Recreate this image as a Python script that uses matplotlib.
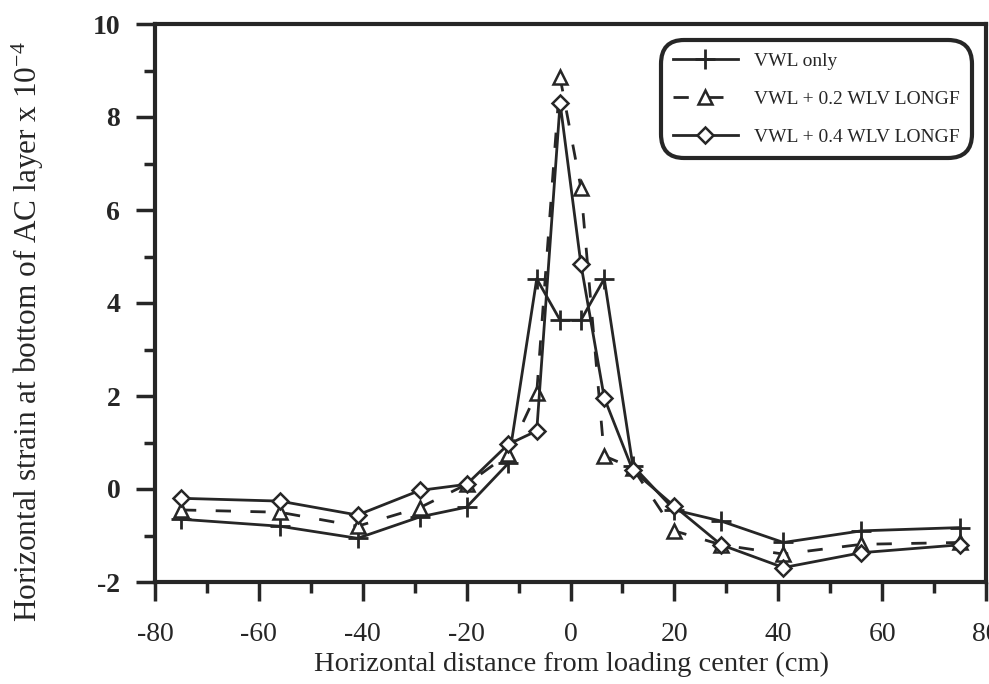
import matplotlib
matplotlib.use("Agg")
import matplotlib.pyplot as plt
from matplotlib.ticker import MultipleLocator, FixedLocator

plt.rcParams["font.family"] = ["Liberation Serif", "DejaVu Serif"]
plt.rcParams["mathtext.fontset"] = "custom"
plt.rcParams["mathtext.rm"] = "Liberation Serif"
plt.rcParams["mathtext.it"] = "Liberation Serif:italic"
plt.rcParams["axes.unicode_minus"] = False

# Horizontal distance from the loading center (cm)
distance = [-75, -56, -41, -29, -20, -12, -6.5, -2, 2, 6.5, 12, 20, 29, 41, 56, 75]

# Horizontal strain at the bottom of the AC layer (x 1e-4)
vwl_only = [-0.65, -0.80, -1.06, -0.60, -0.39, 0.55, 4.52, 3.63,
            3.63, 4.52, 0.50, -0.45, -0.69, -1.15, -0.90, -0.83]
vwl_02_longf = [-0.45, -0.50, -0.80, -0.40, 0.10, 0.75, 2.07, 8.85,
                6.48, 0.71, 0.45, -0.90, -1.20, -1.40, -1.19, -1.15]
vwl_04_longf = [-0.20, -0.26, -0.56, -0.03, 0.10, 0.96, 1.25, 8.30,
                4.84, 1.96, 0.40, -0.37, -1.20, -1.69, -1.37, -1.20]

labels = ["VWL only", "VWL + 0.2 WLV LONGF", "VWL + 0.4 WLV LONGF"]
x_ticks = [-80, -60, -40, -20, 0, 20, 40, 60, 80]
y_ticks = [-2, 0, 2, 4, 6, 8, 10]

ink = "#262626"
W, H = 989, 684
fig = plt.figure(figsize=(W / 100, H / 100), dpi=100)
fig.patch.set_facecolor("white")
ax = fig.add_axes([155 / W, 1 - 582 / H, 831 / W, 558 / H])

lw = 2.0
ax.plot(distance, vwl_only, color=ink, lw=lw, marker="+", ms=14,
        mew=2.0, label=labels[0])
ax.plot(distance, vwl_02_longf, color=ink, lw=lw, marker="^", ms=10,
        mew=1.8, mfc="white", dashes=(5.5, 7), label=labels[1])
ax.plot(distance, vwl_04_longf, color=ink, lw=lw, marker="D", ms=8,
        mew=1.8, mfc="white", label=labels[2])

ax.set_xlim(-80, 80)
ax.set_ylim(-2, 10)
ax.xaxis.set_major_locator(FixedLocator(x_ticks))
ax.yaxis.set_major_locator(FixedLocator(y_ticks))
ax.xaxis.set_minor_locator(MultipleLocator(10))
ax.yaxis.set_minor_locator(MultipleLocator(1))
ax.set_xticklabels([str(v) for v in x_ticks])
ax.set_yticklabels([str(v) for v in y_ticks], fontweight="bold")

ax.tick_params(which="both", direction="out", top=False, right=False,
               color=ink, width=2.5, labelcolor=ink, labelsize=20)
ax.tick_params(which="major", length=14)
ax.tick_params(which="minor", length=8)
ax.tick_params(axis="x", which="major", pad=15)
ax.tick_params(axis="y", which="major", pad=11)

for side in ["left", "right", "top", "bottom"]:
    ax.spines[side].set_linewidth(3.0)
    ax.spines[side].set_color(ink)

ax.set_xlabel("Horizontal distance from loading center (cm)", fontsize=20.5,
              color=ink)
ax.xaxis.set_label_coords(0.501, -0.126)
ax.set_ylabel(r"Horizontal strain at bottom of AC layer x 10$^{-4}$",
              fontsize=22.5, color=ink)
ax.yaxis.set_label_coords(-0.131, 0.449)

leg = ax.legend(loc="upper right", bbox_to_anchor=(0.977, 0.962),
                borderaxespad=0, fontsize=14, handlelength=3.35,
                handletextpad=0.85, labelspacing=1.06, borderpad=0.35,
                fancybox=True, framealpha=1, edgecolor=ink)
leg.get_frame().set_linewidth(3.0)
leg.get_frame().set_boxstyle("round,pad=0.25,rounding_size=1.2")
for t in leg.get_texts():
    t.set_color(ink)

fig.savefig("out.png", dpi=100, facecolor="white")
